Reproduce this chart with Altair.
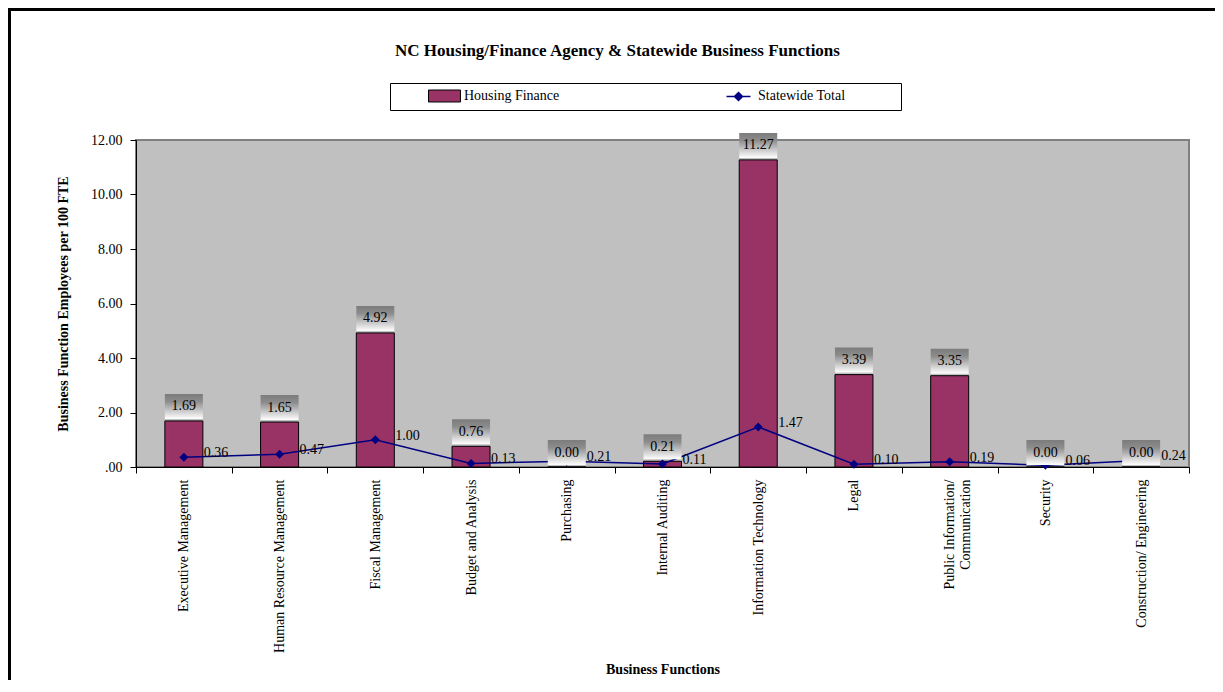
import altair as alt
import pandas as pd

categories = [
    "Executive Management",
    "Human Resource Management",
    "Fiscal Management",
    "Budget and Analysis",
    "Purchasing",
    "Internal Auditing",
    "Information Technology",
    "Legal",
    "Public Information/ Communication",
    "Security",
    "Construction/ Engineering",
]
housing_finance = [1.69, 1.65, 4.92, 0.76, 0.00, 0.21, 11.27, 3.39, 3.35, 0.00, 0.00]
statewide_total = [0.36, 0.47, 1.00, 0.13, 0.21, 0.11, 1.47, 0.10, 0.19, 0.06, 0.24]
series_names = ["Housing Finance", "Statewide Total"]
series_colors = ["#993366", "#000080"]
y_ticks = [0, 2, 4, 6, 8, 10, 12]

FONT = "Liberation Serif"
W, H = 1053, 327

bar_df = pd.DataFrame({"category": categories, "value": housing_finance, "series": series_names[0]})
line_df = pd.DataFrame({"category": categories, "value": statewide_total, "series": series_names[1]})

label_expr_x = (
    "datum.value === 'Public Information/ Communication' ? "
    "['Public Information/', 'Communication'] : datum.label"
)

x_enc = alt.X(
    "category:N",
    sort=categories,
    scale=alt.Scale(paddingInner=0, paddingOuter=0),
    title="Business Functions",
    axis=alt.Axis(
        labelAngle=270,
        labelAlign="right",
        labelBaseline="middle",
        labelPadding=6,
        labelFont=FONT,
        labelFontSize=14,
        labelColor="black",
        labelLimit=400,
        labelExpr=label_expr_x,
        tickBand="extent",
        tickSize=6,
        tickColor="black",
        domainColor="black",
        titleFont=FONT,
        titleFontSize=14,
        titleFontWeight="bold",
        titleColor="black",
        titleY=195,
    ),
)
y_enc = alt.Y(
    "value:Q",
    scale=alt.Scale(domain=[0, 12], nice=False),
    title="Business Function Employees per 100 FTE",
    axis=alt.Axis(
        values=y_ticks,
        grid=False,
        labelExpr="datum.value === 0 ? '.00' : format(datum.value, '.2f')",
        labelFont=FONT,
        labelFontSize=14,
        labelColor="black",
        labelPadding=8,
        tickSize=6,
        tickColor="black",
        domainColor="black",
        titleFont=FONT,
        titleFontSize=14,
        titleFontWeight="bold",
        titleColor="black",
        titleX=-73,
        titleBaseline="middle",
    ),
)

bar_shape = "M-2.46,-0.92H2.46V0.92H-2.46Z"
line_shape = "M-1.85,0H1.85M0,-0.62L0.62,0L0,0.62L-0.62,0Z"
is_hf = "datum.value === 'Housing Finance'"
trail = "\u00a0" * 14 + "\u200b"

legend = alt.Legend(
    title=None,
    orient="none",
    legendX=254,
    legendY=-57,
    direction="horizontal",
    columns=2,
    strokeColor="black",
    fillColor="white",
    padding=6,
    symbolType={"expr": f"{is_hf} ? '{bar_shape}' : '{line_shape}'"},
    symbolSize=169,
    symbolStrokeColor={"expr": f"{is_hf} ? 'black' : '#000080'"},
    symbolStrokeWidth={"expr": f"{is_hf} ? 1 : 1.5"},
    symbolOffset=41.5,
    labelOffset=12.5,
    columnPadding=130,
    labelLimit=2000,
    labelFont=FONT,
    labelFontSize=14,
    labelColor="black",
    labelExpr=f"{is_hf} ? datum.label : datum.label + '{trail}'",
)

bars = alt.Chart(bar_df).mark_bar(size=38).encode(
    x=x_enc,
    y=y_enc,
    fill=alt.Fill("series:N", scale=alt.Scale(domain=series_names, range=series_colors), legend=legend),
)

bar_outline = alt.Chart(bar_df).mark_bar(size=38, fill=None, stroke="black", strokeWidth=1).encode(
    x=x_enc, y=y_enc
)

line = alt.Chart(line_df).mark_line(strokeWidth=1.5, color="#000080").encode(
    x=x_enc, y=y_enc
)

points = alt.Chart(line_df).mark_point(shape="diamond", filled=True, size=80, color="#000080", opacity=1).encode(
    x=x_enc, y=y_enc
)

gradient = alt.Gradient(
    gradient="linear",
    x1=0, y1=0, x2=0, y2=1,
    stops=[
        alt.GradientStop(offset=0, color="#7c7c7c"),
        alt.GradientStop(offset=0.3, color="#8c8c8c"),
        alt.GradientStop(offset=1, color="#ffffff"),
    ],
)

boxes = alt.Chart(bar_df).mark_bar(size=38, fill=gradient, yOffset=-27, y2Offset=-2).encode(
    x=x_enc, y=y_enc, y2="value:Q"
)

bar_text = alt.Chart(bar_df).mark_text(
    font=FONT, fontSize=14, color="black", baseline="middle", dy=-14.5
).encode(x=x_enc, y=y_enc, text=alt.Text("value:Q", format=".2f"))

line_text = alt.Chart(line_df).mark_text(
    font=FONT, fontSize=14, color="black", align="left", baseline="middle", dx=20, dy=-4
).encode(x=x_enc, y=y_enc, text=alt.Text("value:Q", format=".2f"))

frame = alt.Chart(pd.DataFrame({"a": [0]})).mark_rect(
    fill=None, stroke="black", strokeWidth=3
).encode(
    x=alt.value(-126.5), x2=alt.value(3000), y=alt.value(-130.5), y2=alt.value(3000)
)

chart = alt.layer(bars, bar_outline, line, points, boxes, bar_text, line_text, frame).properties(
    width=W,
    height=H,
    title=alt.TitleParams(
        "NC Housing/Finance Agency & Statewide Business Functions",
        anchor="middle",
        frame="group",
        dx=-45,
        offset=-52,
        font=FONT,
        fontSize=17,
        fontWeight="bold",
        color="black",
    ),
    autosize=alt.AutoSizeParams(type="none"),
    padding={"left": 128, "top": 132, "right": 26, "bottom": 213},
).configure(
    background="white",
    view=alt.ViewConfig(fill="#C0C0C0", stroke="#808080", strokeWidth=2),
)

chart.save("out.html", embed_options={"renderer": "svg", "actions": False})
